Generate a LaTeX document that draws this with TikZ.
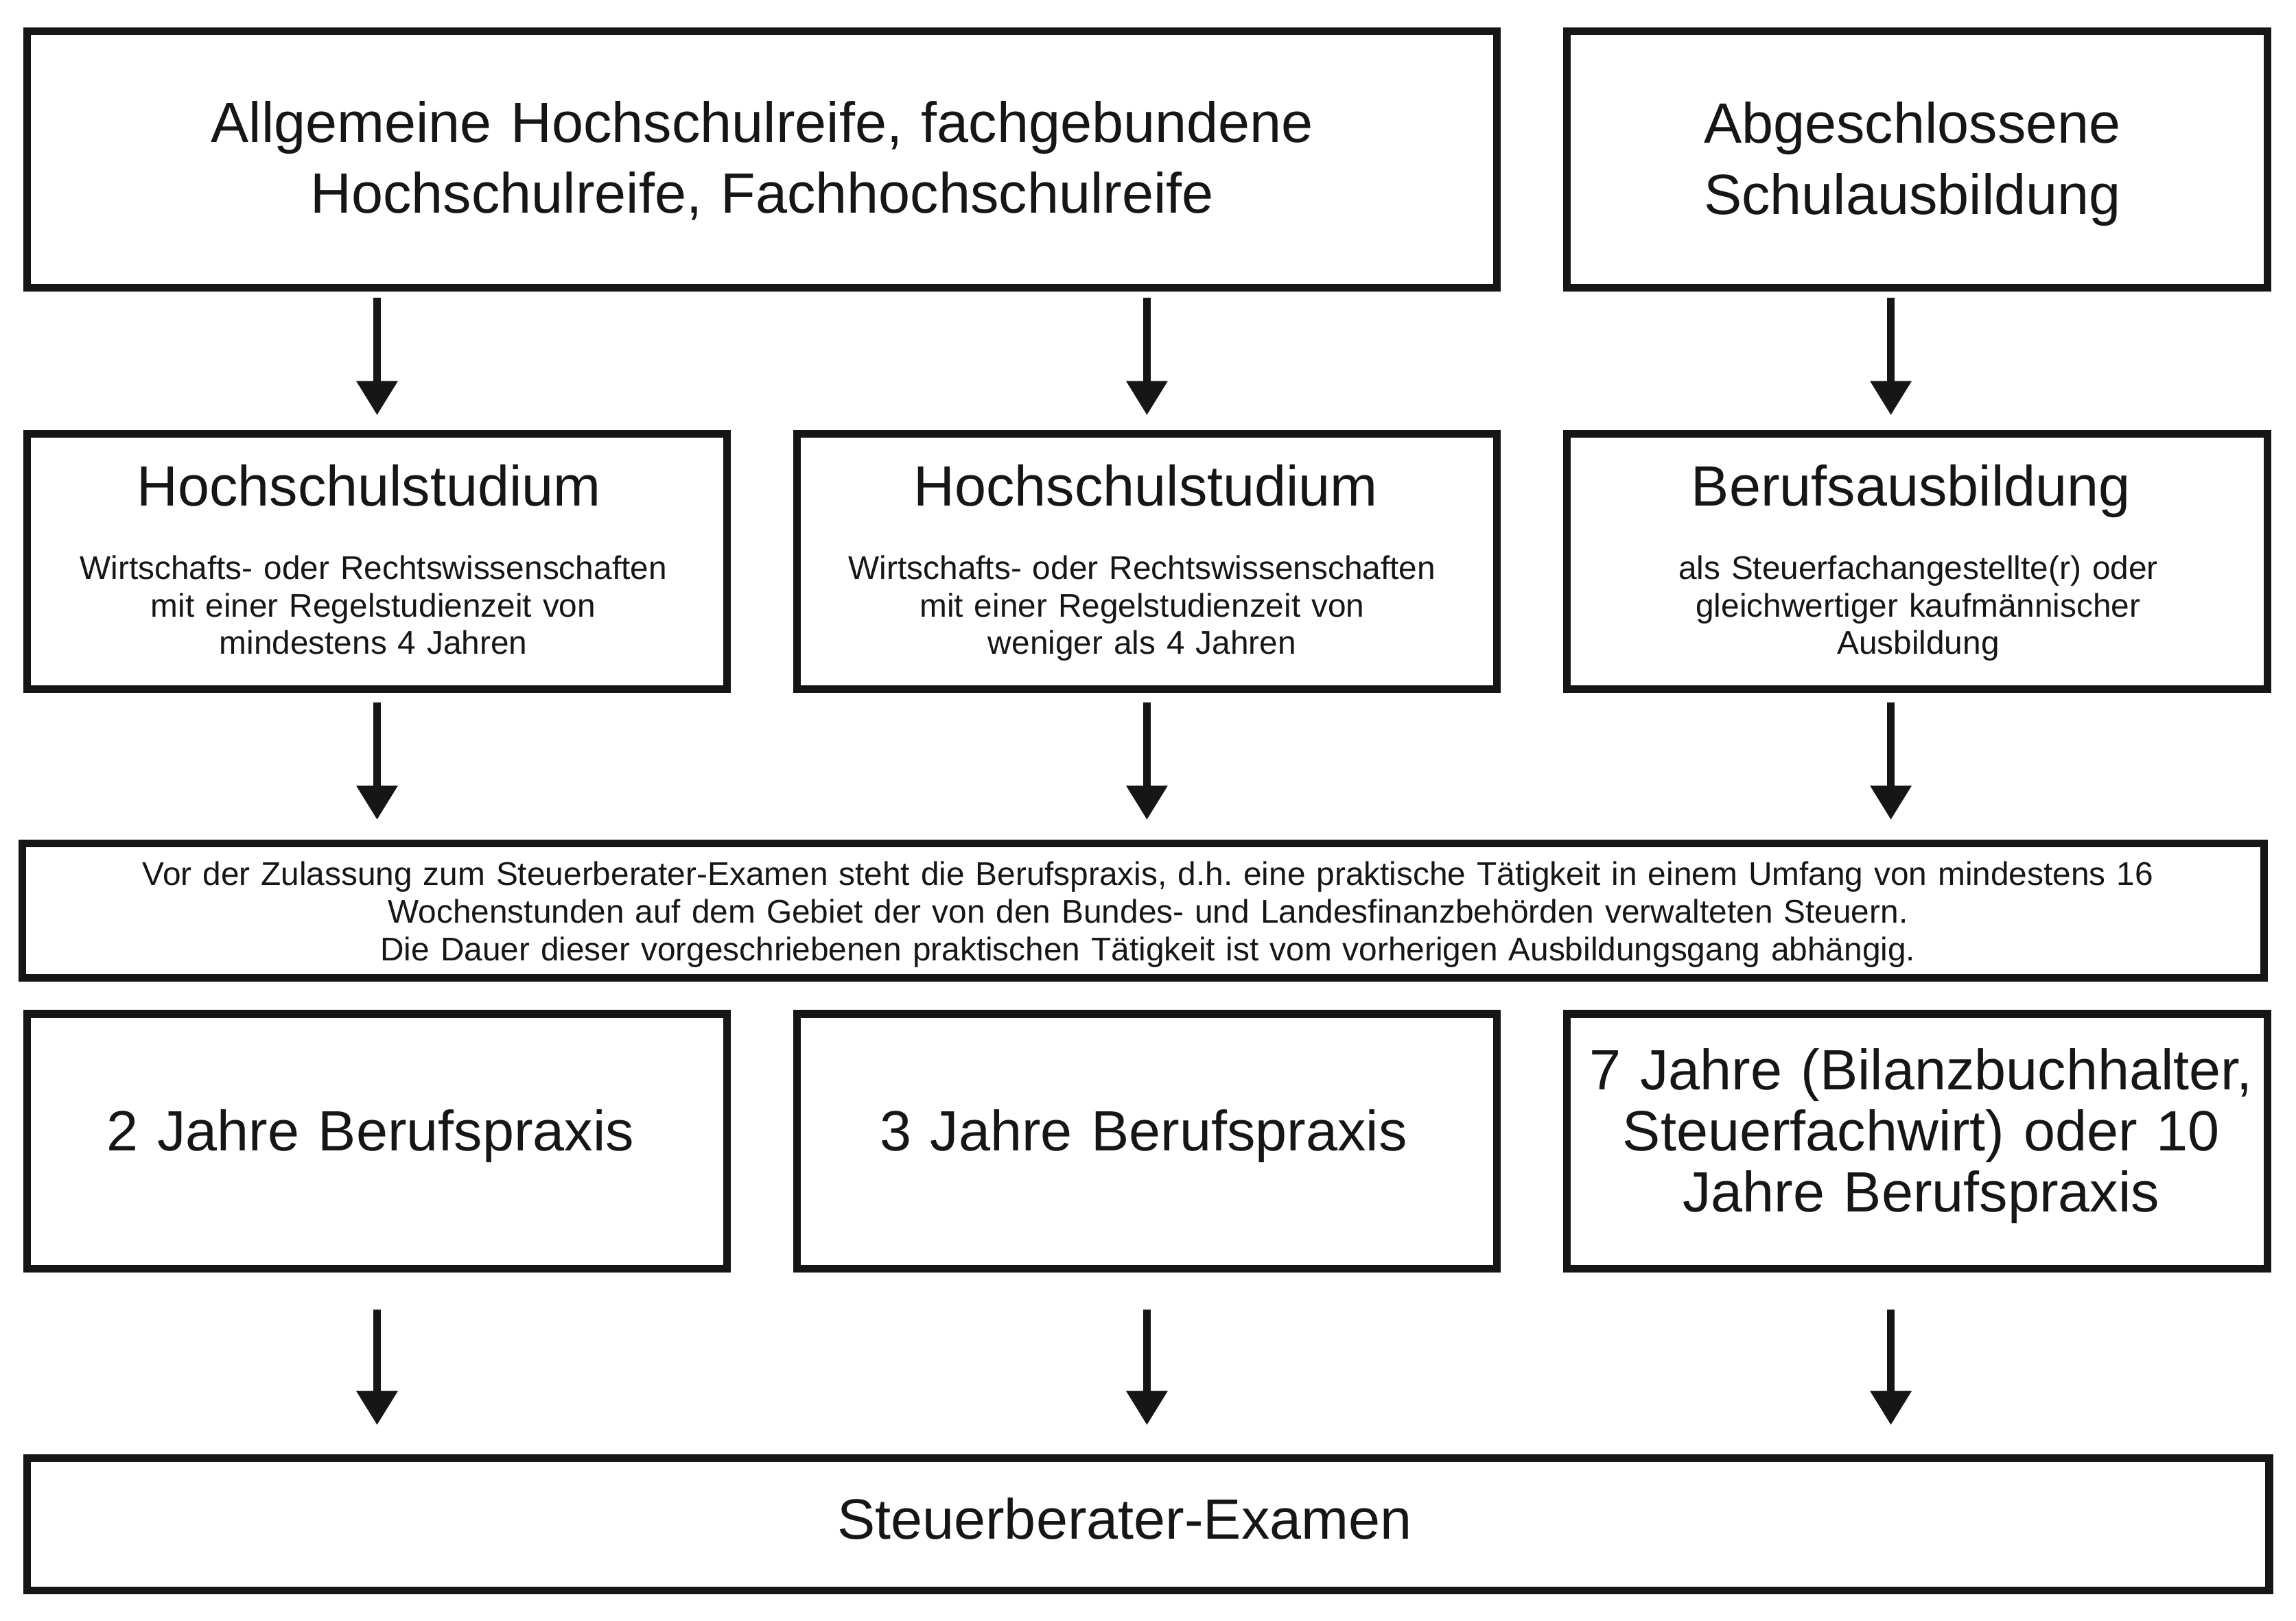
\documentclass[tikz,border=0pt]{standalone}
\usepackage{fontspec}
\setmainfont{Liberation Sans}
\usetikzlibrary{arrows.meta}
\definecolor{ink}{HTML}{161616}
\frenchspacing
\tikzset{
  box/.style={draw=ink, line width=5.2pt, inner sep=0pt, outer sep=0pt, rectangle},
  bigtxt/.style={font=\frenchspacing\fontsize{38.8}{#1}\selectfont, text width=1500pt, align=center,
    anchor=base, inner sep=0pt, outer sep=0pt, text=ink},
  bigtxt/.default=48.5,
  smalltxt/.style={font=\frenchspacing\fontsize{22.4}{#1}\selectfont, text width=1500pt, align=center,
    anchor=base, inner sep=0pt, outer sep=0pt, text=ink},
  smalltxt/.default=25.6,
  arr/.style={draw=ink, line width=5.2pt, -{Triangle[length=23.3pt,width=27pt]}}
}
\begin{document}
\begin{tikzpicture}[x=1pt,y=-1pt]
\path[fill=white, use as bounding box] (0,0) rectangle (1568,1106.9);

% boxes
\node[box, minimum width=1004pt, minimum height=175pt] (top1) at (520.4,108.9) {};
\node[box, minimum width=478.3pt, minimum height=175pt] (top2) at (1309.25,108.9) {};
\node[box, minimum width=477.8pt, minimum height=174.4pt] (h1) at (257.5,383.4) {};
\node[box, minimum width=478.3pt, minimum height=174.4pt] (h2) at (783.25,383.4) {};
\node[box, minimum width=478.3pt, minimum height=174.4pt] (b3) at (1309.25,383.4) {};
\node[box, minimum width=1531pt, minimum height=92.1pt] (wide) at (780.7,622.05) {};
\node[box, minimum width=477.8pt, minimum height=174.3pt] (p1) at (257.5,779.75) {};
\node[box, minimum width=478.3pt, minimum height=174.3pt] (p2) at (783.25,779.75) {};
\node[box, minimum width=478.3pt, minimum height=174.3pt] (p3) at (1309.25,779.75) {};
\node[box, minimum width=1531pt, minimum height=90.3pt] (exam) at (784.2,1041.25) {};

% texts
\node[bigtxt] (t-top1) at (520.5,97.2) {Allgemeine Hochschulreife, fachgebundene\\Hochschulreife, Fachhochschulreife};
\node[bigtxt] (t-top2) at (1306,97.8) {Abgeschlossene\\Schulausbildung};

\node[bigtxt] (t-h1) at (252,345.8) {Hochschulstudium};
\node[smalltxt] (s-h1) at (255,395.8) {Wirtschafts- oder Rechtswissenschaften\\mit einer Regelstudienzeit von\\mindestens 4 Jahren};
\node[bigtxt] (t-h2) at (782.5,345.8) {Hochschulstudium};
\node[smalltxt] (s-h2) at (780,395.8) {Wirtschafts- oder Rechtswissenschaften\\mit einer Regelstudienzeit von\\weniger als 4 Jahren};
\node[bigtxt] (t-b3) at (1305,345.8) {Berufsausbildung};
\node[smalltxt] (s-b3) at (1310,395.8) {als Steuerfachangestellte(r) oder\\gleichwertiger kaufmännischer\\Ausbildung};

\node[smalltxt=25.75] (t-wide) at (784,604.7) {Vor der Zulassung zum Steuerberater-Examen steht die Berufspraxis, d.h. eine praktische Tätigkeit in einem Umfang von mindestens 16\\Wochenstunden auf dem Gebiet der von den Bundes- und Landesfinanzbehörden verwalteten Steuern.\\Die Dauer dieser vorgeschriebenen praktischen Tätigkeit ist vom vorherigen Ausbildungsgang abhängig.};

\node[bigtxt] (t-p1) at (253,786) {2 Jahre Berufspraxis};
\node[bigtxt] (t-p2) at (781,786) {3 Jahre Berufspraxis};
\node[bigtxt=41.8] (t-p3) at (1312,744.3) {7 Jahre (Bilanzbuchhalter,\\Steuerfachwirt) oder 10\\Jahre Berufspraxis};

\node[bigtxt] (t-exam) at (768,1051.3) {Steuerberater-Examen};

% connectors
\coordinate (c3) at (1291.3,0);
\draw[arr, shorten <=7.1pt, shorten >=12.6pt] (top1.south -| h1.north) -- (h1.north);
\draw[arr, shorten <=7.1pt, shorten >=12.6pt] (top1.south -| h2.north) -- (h2.north);
\draw[arr, shorten <=7.1pt, shorten >=12.6pt] (top2.south -| c3) -- (b3.north -| c3);

\draw[arr, shorten <=9.4pt, shorten >=16pt] (h1.south) -- (wide.north -| h1.south);
\draw[arr, shorten <=9.4pt, shorten >=16pt] (h2.south) -- (wide.north -| h2.south);
\draw[arr, shorten <=9.4pt, shorten >=16pt] (b3.south -| c3) -- (wide.north -| c3);

\draw[arr, shorten <=27.8pt, shorten >=22.6pt] (p1.south) -- (exam.north -| p1.south);
\draw[arr, shorten <=27.8pt, shorten >=22.6pt] (p2.south) -- (exam.north -| p2.south);
\draw[arr, shorten <=27.8pt, shorten >=22.6pt] (p3.south -| c3) -- (exam.north -| c3);
\end{tikzpicture}
\end{document}
